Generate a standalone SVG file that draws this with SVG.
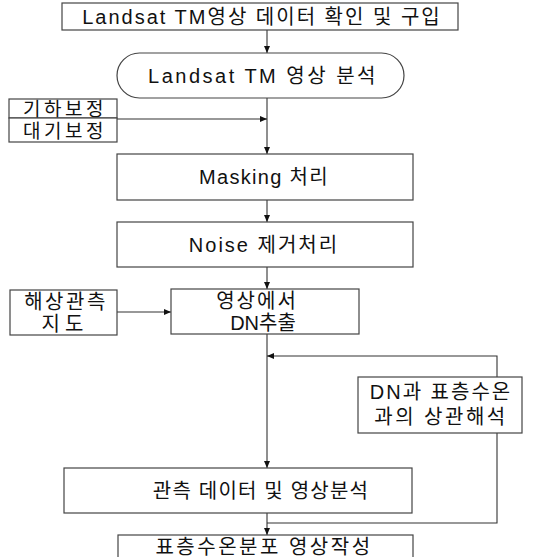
<svg xmlns="http://www.w3.org/2000/svg" width="538" height="557" viewBox="0 0 538 557">
<defs>
<marker id="ah" markerWidth="8" markerHeight="8" refX="7" refY="4" orient="auto" markerUnits="userSpaceOnUse">
<path d="M0,1 L7,4 L0,7 z" fill="#111"/>
</marker>
<style>
.box{fill:#fff;stroke:#444;stroke-width:1.2}
.t{font-family:"Liberation Sans","Noto Sans CJK KR",sans-serif;font-size:20px;fill:#111;text-anchor:middle}
.s{font-size:19px}
.ln{fill:none;stroke:#333;stroke-width:1.1}
</style>
</defs>
<rect width="538" height="557" fill="#fff"/>
<g id="connectors">
<line class="ln" x1="267" y1="30" x2="267" y2="53" marker-end="url(#ah)"/>
<line class="ln" x1="267" y1="98" x2="267" y2="154" marker-end="url(#ah)"/>
<line class="ln" x1="117" y1="119" x2="267" y2="119" marker-end="url(#ah)"/>
<line class="ln" x1="267" y1="200" x2="267" y2="222" marker-end="url(#ah)"/>
<line class="ln" x1="267" y1="267" x2="267" y2="289" marker-end="url(#ah)"/>
<line class="ln" x1="117" y1="312" x2="171" y2="312" marker-end="url(#ah)"/>
<line class="ln" x1="267" y1="334" x2="267" y2="468" marker-end="url(#ah)"/>
<polyline class="ln" points="497,377 497,356 267,356" marker-end="url(#ah)"/>
<polyline class="ln" points="497,433 497,523 267,523"/>
<line class="ln" x1="267" y1="513" x2="267" y2="535" marker-end="url(#ah)"/>
</g>
<g id="n1"><rect class="box" x="62" y="3" width="396" height="27"/><text class="t" x="262" y="24" letter-spacing="2">Landsat TM영상 데이터 확인 및 구입</text></g>
<g id="n2"><rect class="box" x="117" y="53" width="287" height="45" rx="22.5"/><text class="t" x="263" y="83" letter-spacing="2.5">Landsat TM 영상 분석</text></g>
<g id="n3"><rect class="box" x="9" y="99" width="108" height="19"/><text class="t s" x="65" y="116" letter-spacing="3.5">기하보정</text></g>
<g id="n4"><rect class="box" x="9" y="118" width="108" height="24"/><text class="t s" x="65" y="138" letter-spacing="3.5">대기보정</text></g>
<g id="n5"><rect class="box" x="117" y="154" width="296" height="46"/><text class="t" x="264" y="184" letter-spacing="1.3">Masking 처리</text></g>
<g id="n6"><rect class="box" x="117" y="222" width="296" height="45"/><text class="t" x="264" y="252" letter-spacing="2">Noise 제거처리</text></g>
<g id="n7"><rect class="box" x="10" y="290" width="107" height="45"/><text class="t" x="66" y="309" letter-spacing="2.5">해상관측</text><text class="t" x="65" y="331" letter-spacing="5">지도</text></g>
<g id="n8"><rect class="box" x="171" y="289" width="188" height="45"/><text class="t" x="257" y="308" letter-spacing="2">영상에서</text><text class="t" x="263" y="330">DN추출</text></g>
<g id="n9"><rect class="box" x="358" y="377" width="164" height="56"/><text class="t" x="441" y="399" letter-spacing="2">DN과 표층수온</text><text class="t" x="441" y="424" letter-spacing="2.5">과의 상관해석</text></g>
<g id="n10"><rect class="box" x="64" y="468" width="348" height="45"/><text class="t" x="261" y="498" letter-spacing="1.2">관측 데이터 및 영상분석</text></g>
<g id="n11"><rect class="box" x="118" y="535" width="295" height="30"/><text class="t" x="264" y="554" letter-spacing="2.5">표층수온분포 영상작성</text></g>
</svg>
